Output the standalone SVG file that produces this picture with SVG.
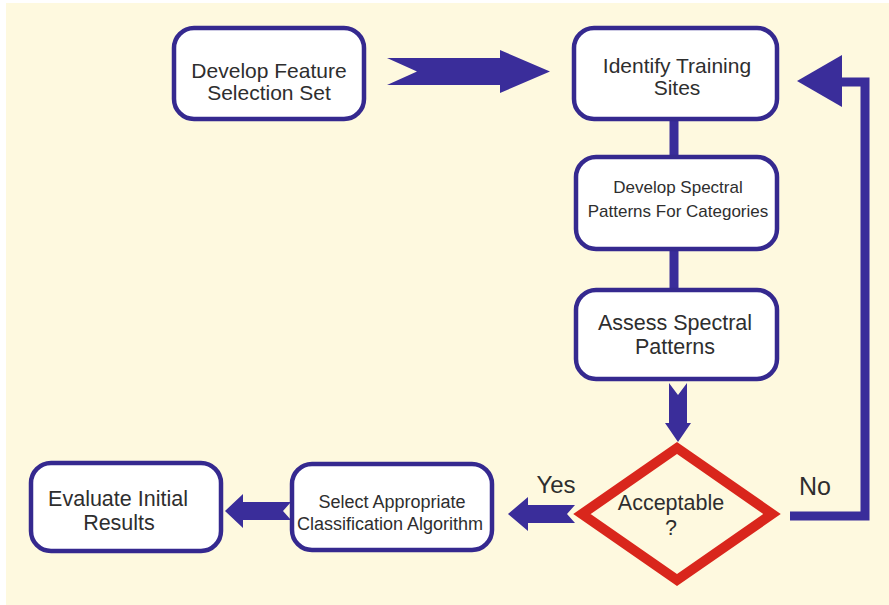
<svg xmlns="http://www.w3.org/2000/svg" width="889" height="605" viewBox="0 0 889 605">
  <style>
    .box { fill: #ffffff; stroke: #35298f; stroke-width: 4.5; }
    .arrow { fill: #3a2d9a; }
    .bar { stroke: #3a2d9a; stroke-width: 9; fill: none; }
    .label { font-family: "Liberation Sans", Arial, sans-serif; fill: #2e2e2e; text-anchor: middle; }
  </style>
  <rect x="0" y="0" width="889" height="605" fill="#ffffff"/>
  <rect x="6" y="3" width="883" height="602" fill="#fef9df"/>

  <g id="connectors">
    <!-- Feature set to training sites -->
    <polygon class="arrow" points="387,58 500,58 500,50 550,71.5 500,93 500,85 387,85 417,71.5"/>
    <!-- Vertical links between the stacked steps -->
    <line class="bar" x1="674" y1="118" x2="674" y2="158"/>
    <line class="bar" x1="674" y1="248" x2="674" y2="290"/>
    <!-- Assess to decision -->
    <polygon class="arrow" points="669,383 678,395 687,383 687,423 691,423 678,442 665,423 669,423"/>
    <!-- "No" loop back to training sites -->
    <polyline class="bar" points="790,516 865,516 865,82 840,82"/>
    <polygon class="arrow" points="797,81 842,55 842,107"/>
    <!-- "Yes" to classification algorithm -->
    <polygon class="arrow" points="575,505 567,514 575,523 528,523 528,531 508,514 528,497 528,505"/>
    <!-- Classification algorithm to evaluation -->
    <polygon class="arrow" points="291,502 283,511 291,520 243,520 243,528 225,511 243,494 243,502"/>
  </g>

  <g id="node-feature-set">
    <rect class="box" x="174" y="28" width="190" height="91" rx="20"/>
    <text class="label" x="269" y="78" font-size="21">Develop Feature</text>
    <text class="label" x="269" y="100" font-size="21">Selection Set</text>
  </g>

  <g id="node-training-sites">
    <rect class="box" x="574" y="28" width="203" height="91" rx="20"/>
    <text class="label" x="677" y="73" font-size="21">Identify Training</text>
    <text class="label" x="677" y="95" font-size="21">Sites</text>
  </g>

  <g id="node-spectral-patterns">
    <rect class="box" x="576" y="157" width="201" height="92" rx="20"/>
    <text class="label" x="678" y="193" font-size="17">Develop Spectral</text>
    <text class="label" x="678" y="217" font-size="17">Patterns For Categories</text>
  </g>

  <g id="node-assess">
    <rect class="box" x="576" y="290" width="201" height="89" rx="20"/>
    <text class="label" x="675" y="330" font-size="21.5">Assess Spectral</text>
    <text class="label" x="675" y="354" font-size="21.5">Patterns</text>
  </g>

  <g id="node-acceptable">
    <polygon points="677,448 772,514 677,580 582,514" fill="#fef9df" stroke="#d9261c" stroke-width="10"/>
    <text class="label" x="671" y="510" font-size="21.5">Acceptable</text>
    <text class="label" x="671" y="535" font-size="21.5">?</text>
  </g>

  <g id="edge-labels">
    <text class="label" x="556" y="493" font-size="24">Yes</text>
    <text class="label" x="815" y="495" font-size="25">No</text>
  </g>

  <g id="node-select-algorithm">
    <rect class="box" x="292" y="464" width="200" height="86" rx="20"/>
    <text class="label" x="392" y="508" font-size="18">Select Appropriate</text>
    <text class="label" x="390" y="530" font-size="18">Classification Algorithm</text>
  </g>

  <g id="node-evaluate">
    <rect class="box" x="31" y="463" width="190" height="88" rx="20"/>
    <text class="label" x="118" y="506" font-size="21.5">Evaluate Initial</text>
    <text class="label" x="119" y="530" font-size="21.5">Results</text>
  </g>
</svg>
